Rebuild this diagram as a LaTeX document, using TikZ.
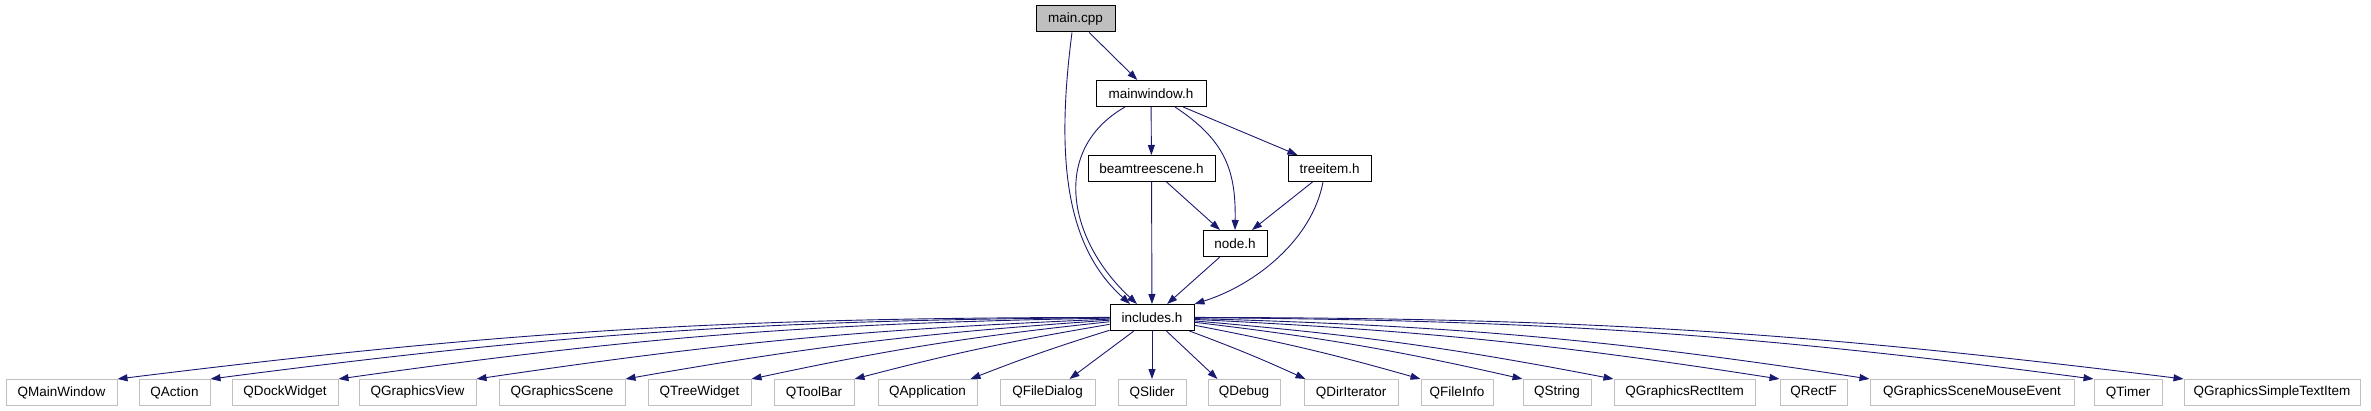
\documentclass[tikz,border=0pt]{standalone}
\usepackage{fontspec}
\setmainfont{Liberation Sans}
\usetikzlibrary{arrows.meta}
\definecolor{edgeblue}{HTML}{191970}
\definecolor{grey75}{HTML}{BFBFBF}
\tikzset{
  hdr/.style={draw=black, line width=1pt, fill=white, minimum height=26pt,
    inner sep=0pt, font=\fontsize{13.5}{16}\selectfont},
  qt/.style={hdr, draw=grey75},
  dep/.style={draw=edgeblue, line width=0.9pt,
    -{Triangle[length=10pt,width=7pt]}}
}
\begin{document}
\begin{tikzpicture}[x=1pt,y=-1pt]
  \useasboundingbox (0,0) rectangle (2371,411);

  % project headers
  \node[hdr, fill=grey75, minimum width=79pt] (main) at (1075.5,19) {main.cpp};
  \node[hdr, minimum width=110pt] (mw) at (1151,93.5) {mainwindow.h};
  \node[hdr, minimum width=127pt] (bts) at (1151.5,168.5) {beamtreescene.h};
  \node[hdr, minimum width=83pt] (ti) at (1329.5,168.5) {treeitem.h};
  \node[hdr, minimum width=64pt] (nd) at (1235,243.5) {node.h};
  \node[hdr, minimum width=84pt] (inc) at (1152,317.5) {includes.h};

  % Qt headers
  \foreach \n/\xa/\xb in {QMainWindow/6/117, QAction/139/210,
      QDockWidget/232/338, QGraphicsView/359/476, QGraphicsScene/499/625,
      QTreeWidget/648/751, QToolBar/774/854, QApplication/878/977,
      QFileDialog/1000/1095, QSlider/1118/1186, QDebug/1208/1280,
      QDirIterator/1304/1398, QFileInfo/1421/1493, QString/1523/1591,
      QGraphicsRectItem/1614/1755, QRectF/1780/1847,
      QGraphicsSceneMouseEvent/1870/2074, QTimer/2094/2162,
      QGraphicsSimpleTextItem/2184/2360}
    \node[qt, minimum width={\xb-\xa}] (\n) at ({(\xa+\xb)/2},392.5) {\n};

  % includes between project headers
  \draw[dep] (main) -- (mw);
  \draw[dep] ([xshift=-3.5pt]main.south) .. controls (1054,170) and (1070,250)
    .. ([xshift=-22pt]inc.north);
  \draw[dep] (mw) -- (bts);
  \draw[dep] (mw) -- (ti);
  \draw[dep] ([xshift=24pt]mw.south) .. controls (1225,140) and (1236,170)
    .. (nd.north);
  \draw[dep] ([xshift=-26pt]mw.south) .. controls (1050,150) and (1068,240)
    .. ([xshift=-15pt]inc.north);
  \draw[dep] (bts) -- (nd);
  \draw[dep] (bts) -- (inc);
  \draw[dep] (ti) -- (nd);
  \draw[dep] ([xshift=-6.5pt]ti.south) .. controls (1312,240) and (1255,285)
    .. (inc.north east);
  \draw[dep] (nd) -- (inc);

  % includes.h to Qt headers
  \foreach \n/\s/\k in {QMainWindow/0/3.5, QAction/0/3.5, QDockWidget/0/3.5,
      QGraphicsView/0/3, QGraphicsScene/0/3, QTreeWidget/0/3,
      QToolBar/0/2.5, QApplication/-7/2}
    \draw[dep] (inc) to[bend right=\k] ([xshift=\s pt]\n.north east);
  \draw[dep] (inc) -- ([xshift=-26pt]QFileDialog.north east);
  \draw[dep] (inc) -- (QSlider);
  \draw[dep] (inc) -- ([xshift=10pt]QDebug.north west);
  \foreach \n/\s/\k in {QDirIterator/2/2, QFileInfo/0/2.5, QString/0/3,
      QGraphicsRectItem/0/3, QRectF/0/3, QGraphicsSceneMouseEvent/0/3.5,
      QTimer/0/3.5, QGraphicsSimpleTextItem/0/3.5}
    \draw[dep] (inc) to[bend left=\k] ([xshift=\s pt]\n.north west);
\end{tikzpicture}
\end{document}
